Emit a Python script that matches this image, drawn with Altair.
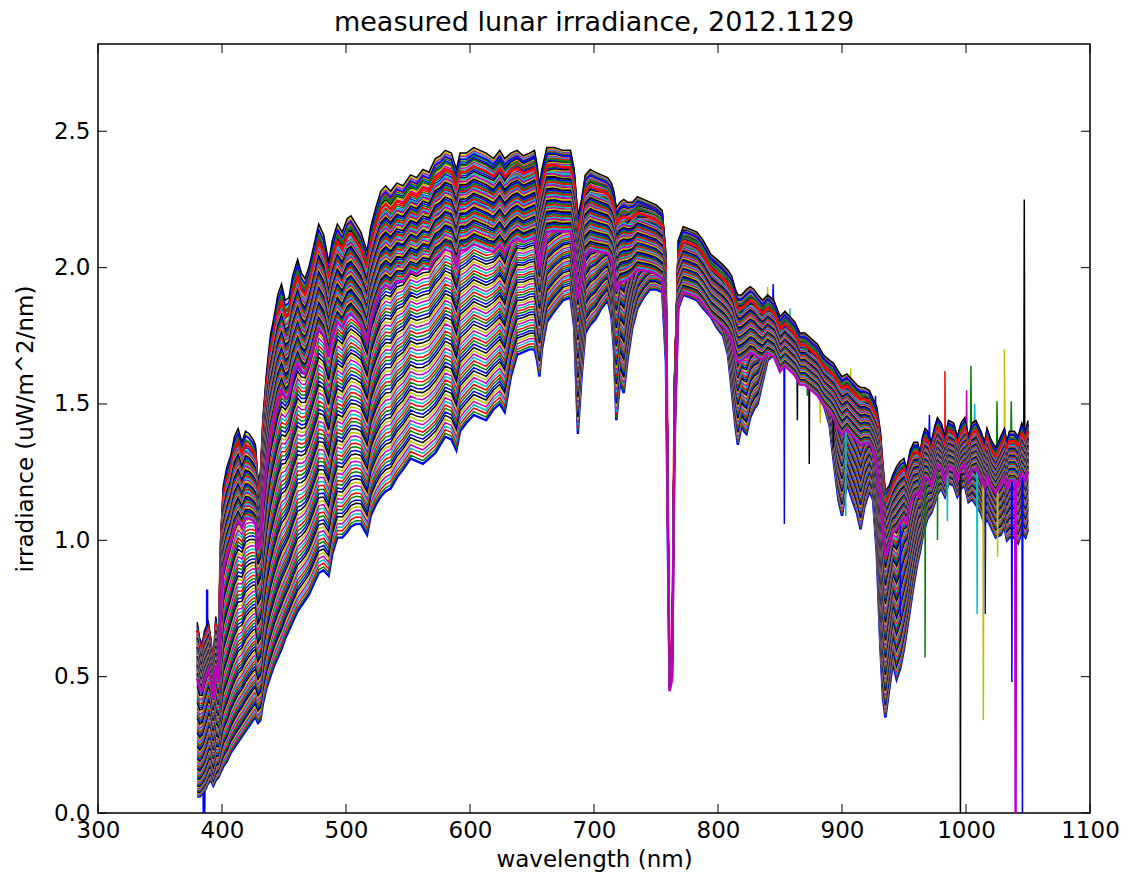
import altair as alt
import numpy as np
import pandas as pd

# ---------------------------------------------------------------- data ----
# wavelength grid (nm) with the upper (brightest) and lower (first recorded,
# highest airmass) envelopes of the spectra bundle, read off the plot
WAVELENGTH = [
    380, 382, 384, 386, 389, 391, 393, 395, 397, 399, 401, 404, 407, 410, 413,
    416, 419, 422, 425, 427, 429, 431, 433, 436, 439, 442, 445, 448, 451, 454,
    457, 461, 464, 467, 470, 474, 478, 482, 486, 489, 493, 497, 501, 504, 508,
    512, 517, 520, 524, 528, 532, 536, 541, 546, 552, 557, 562, 567, 572, 576,
    580, 585, 589, 592, 597, 603, 608, 613, 619, 624, 628, 633, 638, 643, 648,
    652, 654, 656, 658, 662, 668, 675, 681, 684, 687, 690, 693, 697, 701, 706,
    711, 714, 716, 718, 721, 724, 727, 731, 735, 740, 745, 750, 755, 758, 760,
    761, 763, 765, 768, 772, 778, 783, 788, 794, 799, 804, 808, 811, 814, 816,
    819, 821, 823, 826, 829, 832, 836, 840, 845, 850, 854, 858, 862, 866, 870,
    875, 880, 885, 890, 893, 897, 900, 904, 908, 912, 915, 918, 922, 925, 928,
    931, 933, 935, 938, 941, 944, 947,
    950, 952, 955, 958, 961, 963, 965, 967, 969, 972, 975, 977, 980, 983, 986,
    990, 993, 996, 999, 1002, 1005, 1008, 1012, 1015, 1017, 1020, 1024, 1028, 1031, 1033,
    1035, 1039, 1042, 1045, 1048, 1050,
]
TOP = [
    0.70, 0.64, 0.62, 0.67, 0.70, 0.64, 0.55, 0.72, 0.62, 1.02, 1.20, 1.27, 1.31, 1.38, 1.41,
    1.36, 1.40, 1.39, 1.37, 1.35, 1.22, 1.25, 1.45, 1.62, 1.75, 1.82, 1.90, 1.94, 1.88, 1.89,
    1.97, 2.03, 1.98, 1.96, 2.00, 2.08, 2.16, 2.12, 2.02, 2.10, 2.16, 2.13, 2.18, 2.19, 2.16,
    2.13, 2.06, 2.15, 2.22, 2.28, 2.30, 2.28, 2.31, 2.30, 2.34, 2.33, 2.36, 2.35, 2.40, 2.41,
    2.43, 2.42, 2.36, 2.42, 2.42, 2.44, 2.43, 2.42, 2.40, 2.43, 2.40, 2.42, 2.43, 2.41, 2.42,
    2.43, 2.38, 2.30, 2.36, 2.44, 2.44, 2.43, 2.43, 2.36, 2.19, 2.25, 2.34, 2.36, 2.35, 2.34,
    2.33, 2.31, 2.28, 2.22, 2.24, 2.25, 2.24, 2.24, 2.26, 2.25, 2.24, 2.23, 2.21, 2.05, 0.95,
    0.50, 0.55, 1.60, 2.10, 2.15, 2.14, 2.13, 2.10, 2.05, 2.03, 2.01, 1.99, 1.97, 1.92, 1.90,
    1.90, 1.91, 1.92, 1.93, 1.92, 1.90, 1.88, 1.90, 1.88, 1.82, 1.84, 1.82, 1.80, 1.76, 1.76,
    1.74, 1.72, 1.68, 1.66, 1.65, 1.62, 1.60, 1.61, 1.59, 1.57, 1.56, 1.56, 1.55, 1.52, 1.49,
    1.40, 1.28, 1.18, 1.20, 1.24, 1.27, 1.29,
    1.30, 1.26, 1.33, 1.36, 1.36, 1.32, 1.38, 1.41, 1.40, 1.36, 1.42, 1.45, 1.43, 1.38, 1.44,
    1.43, 1.38, 1.43, 1.45, 1.38, 1.43, 1.44, 1.40, 1.36, 1.41, 1.37, 1.34, 1.38, 1.41, 1.36,
    1.40, 1.40, 1.38, 1.43, 1.40, 1.44,
]
BOTTOM = [
    0.06, 0.06, 0.07, 0.08, 0.11, 0.12, 0.10, 0.12, 0.13, 0.15, 0.17, 0.19, 0.22, 0.24, 0.26,
    0.28, 0.30, 0.32, 0.34, 0.35, 0.33, 0.34, 0.40, 0.46, 0.50, 0.54, 0.57, 0.60, 0.64, 0.67,
    0.70, 0.74, 0.76, 0.78, 0.80, 0.84, 0.88, 0.89, 0.87, 0.95, 1.01, 1.01, 1.03, 1.05, 1.06,
    1.06, 1.02, 1.09, 1.13, 1.16, 1.18, 1.19, 1.23, 1.26, 1.30, 1.29, 1.28, 1.30, 1.32, 1.35,
    1.38, 1.37, 1.33, 1.40, 1.43, 1.46, 1.45, 1.44, 1.48, 1.50, 1.47, 1.60, 1.68, 1.69, 1.70,
    1.70, 1.66, 1.60, 1.70, 1.80, 1.84, 1.88, 1.89, 1.78, 1.39, 1.60, 1.76, 1.79, 1.81, 1.85,
    1.88, 1.82, 1.70, 1.44, 1.58, 1.54, 1.66, 1.78, 1.85, 1.89, 1.92, 1.92, 1.91, 1.65, 0.80,
    0.46, 0.50, 1.35, 1.85, 1.90, 1.89, 1.88, 1.85, 1.82, 1.78, 1.75, 1.68, 1.55, 1.42, 1.35,
    1.42, 1.40, 1.39, 1.45, 1.48, 1.50, 1.58, 1.66, 1.68, 1.62, 1.66, 1.65, 1.64, 1.62, 1.61,
    1.58, 1.55, 1.50, 1.42, 1.30, 1.15, 1.09, 1.21, 1.15, 1.10, 1.04, 1.12, 1.18, 1.15, 0.95,
    0.60, 0.42, 0.35, 0.45, 0.55, 0.49, 0.53,
    0.60, 0.66, 0.75, 0.84, 0.92, 0.96, 1.01, 1.05, 1.08, 1.10, 1.14, 1.17, 1.19, 1.16, 1.21,
    1.20, 1.16, 1.19, 1.20, 1.14, 1.15, 1.13, 1.10, 1.06, 1.08, 1.05, 1.01, 1.02, 1.05, 1.00,
    1.01, 1.01, 0.99, 1.03, 1.01, 1.04,
]
assert len(WAVELENGTH) == len(TOP) == len(BOTTOM)

# per-spectrum extinction exponent (1 = lowest spectrum, 0 = highest) and gray level,
# one entry per spectrum in plotting order (138 spectra)
EXTINCTION = [
    1.000, 0.984, 0.967, 0.951, 0.935, 0.919, 0.903, 0.888, 0.872, 0.857,
    0.841, 0.826, 0.811, 0.796, 0.782, 0.767, 0.752, 0.738, 0.724, 0.710,
    0.696, 0.682, 0.668, 0.654, 0.641, 0.627, 0.614, 0.601, 0.588, 0.575,
    0.563, 0.550, 0.537, 0.525, 0.513, 0.501, 0.489, 0.477, 0.465, 0.454,
    0.442, 0.431, 0.420, 0.409, 0.398, 0.387, 0.376, 0.366, 0.355, 0.345,
    0.335, 0.325, 0.315, 0.305, 0.295, 0.286, 0.276, 0.267, 0.258, 0.249,
    0.240, 0.231, 0.223, 0.214, 0.206, 0.198, 0.189, 0.181, 0.174, 0.166,
    0.158, 0.151, 0.143, 0.136, 0.129, 0.122, 0.115, 0.108, 0.102, 0.095,
    0.089, 0.083, 0.077, 0.071, 0.065, 0.059, 0.054, 0.048, 0.043, 0.038,
    0.033, 0.028, 0.023, 0.018, 0.014, 0.009, 0.005, 0.000,
    0.0025, 0.005, 0.0075, 0.010, 0.0125, 0.015, 0.0175, 0.020, 0.0225, 0.025,
    0.0275, 0.030, 0.0325, 0.035, 0.0375, 0.040, 0.0425, 0.045, 0.0475, 0.050,
    0.0525, 0.055, 0.0575, 0.060, 0.0625, 0.065, 0.0675, 0.070, 0.0725, 0.075,
    0.0775, 0.080, 0.0825, 0.085, 0.0875, 0.090, 0.0925, 0.095, 0.0975, 0.100,
]
GRAY = [1.0] * 98 + [
    0.992, 0.984, 0.976, 0.966, 0.964, 0.962, 0.961, 0.959, 0.957, 0.955,
    0.953, 0.952, 0.950, 0.948, 0.946, 0.944, 0.943, 0.941, 0.939, 0.937,
    0.935, 0.934, 0.932, 0.930, 0.928, 0.926, 0.925, 0.923, 0.921, 0.919,
    0.917, 0.916, 0.914, 0.912, 0.910, 0.908, 0.907, 0.905, 0.903, 0.900,
]
assert len(EXTINCTION) == len(GRAY)

# single-sample noise spikes: spectrum index, wavelength (nm), value
SPIKE_LINE = [0, 0, 70, 55, 62, 57, 54, 61, 77, 68, 59, 84, 69, 66, 91, 64, 58, 71,
              60, 75, 78, 85, 73, 82, 49, 56, 137, 63, 76, 83, 89, 80, 92, 87, 98]
SPIKE_WL = [385.5, 388.0, 853.5, 864.0, 873.6, 872.0, 882.5, 907.0, 844.5, 840.0,
            858.0, 927.0, 893.0, 903.0, 947.0, 967.0, 983.0, 1004.0, 1000.5, 1031.0,
            1025.0, 1036.5, 1009.0, 1014.0, 1015.5, 1037.0, 1040.0, 1045.5, 995.5,
            1047.0, 1025.5, 1007.0, 977.0, 985.0, 970.5]
SPIKE_VAL = [-0.10, 0.82, 1.06, 1.44, 1.28, 1.53, 1.43, 1.63, 1.94, 1.93,
             1.85, 1.53, 1.34, 1.09, 0.72, 0.57, 1.62, 1.64, 1.55, 1.70,
             1.51, 1.51, 0.73, 0.34, 0.73, 0.48, -0.10, -0.10, -0.10,
             2.25, 0.94, 1.50, 1.00, 1.07, 1.46]

COLOR_CYCLE = ["#0000ff", "#008000", "#ff0000", "#00bfbf", "#bf00bf", "#bfbf00", "#000000"]
BOLD_LINES = [0, 100, 137]   # spectra that stand out in the picture

X_TICKS = [300, 400, 500, 600, 700, 800, 900, 1000, 1100]
Y_TICKS = [0.0, 0.5, 1.0, 1.5, 2.0, 2.5]

# ------------------------------------------------------------ build table --
w = np.array(WAVELENGTH, dtype=float)
top = np.array(TOP)
bot = np.array(BOTTOM)
rows = []
for i, (a, g) in enumerate(zip(EXTINCTION, GRAY)):
    v = top * g * (bot / top) ** a
    ws, vs = list(w), list(v)
    for li, sw, sv in zip(SPIKE_LINE, SPIKE_WL, SPIKE_VAL):
        if li == i:
            for dw in (-0.4, 0.4):
                ws.append(sw + dw)
                vs.append(float(np.interp(sw + dw, w, v)))
            ws.append(sw)
            vs.append(sv)
    col = COLOR_CYCLE[i % 7]
    sw_ = 2.4 if i in BOLD_LINES else 1.5
    for xx, yy in zip(ws, vs):
        rows.append({"w": round(float(xx), 2), "v": round(float(yy), 4),
                     "id": f"L{i:03d}", "c": col, "s": sw_})
df = pd.DataFrame(rows)

W, H = 992, 769
FONT = "DejaVu Sans"

xscale = alt.Scale(domain=[300, 1100], nice=False, zero=False)
yscale = alt.Scale(domain=[0, 2.82], nice=False, zero=False)
xaxis = alt.Axis(values=X_TICKS, title="wavelength (nm)", format="d",
                 labelPadding=6, titlePadding=6)
yaxis = alt.Axis(values=Y_TICKS, title="irradiance (uW/m^2/nm)", format=".1f",
                 labelPadding=8, titlePadding=16)

lines = alt.Chart(df).mark_line(clip=True).encode(
    x=alt.X("w:Q", scale=xscale, axis=xaxis),
    y=alt.Y("v:Q", scale=yscale, axis=yaxis),
    color=alt.Color("c:N", scale=None, legend=None),
    strokeWidth=alt.StrokeWidth("s:Q", scale=None, legend=None),
    detail="id:N",
)

xt = pd.DataFrame({"t": X_TICKS})
yt = pd.DataFrame({"t": Y_TICKS})
tick_style = dict(color="black", strokeWidth=1)
bottom_ticks = alt.Chart(xt).mark_rule(**tick_style).encode(
    x=alt.X("t:Q", scale=xscale, axis=xaxis), y=alt.value(H), y2=alt.value(H - 9))
top_ticks = alt.Chart(xt).mark_rule(**tick_style).encode(
    x=alt.X("t:Q", scale=xscale, axis=xaxis), y=alt.value(0), y2=alt.value(9))
left_ticks = alt.Chart(yt).mark_rule(**tick_style).encode(
    y=alt.Y("t:Q", scale=yscale, axis=yaxis), x=alt.value(0), x2=alt.value(9))
right_ticks = alt.Chart(yt).mark_rule(**tick_style).encode(
    y=alt.Y("t:Q", scale=yscale, axis=yaxis), x=alt.value(W - 9), x2=alt.value(W))

chart = alt.layer(lines, bottom_ticks, top_ticks, left_ticks, right_ticks).properties(
    width=W,
    height=H,
    background="white",
    title=alt.TitleParams("measured lunar irradiance, 2012.1129", fontSize=27, font=FONT,
                          fontWeight="normal", color="black", anchor="middle", offset=7),
    padding={"left": 98, "right": 38, "top": 44, "bottom": 68},
    autosize=alt.AutoSizeParams(type="none"),
).configure_view(
    stroke="black", strokeWidth=1.5
).configure_axis(
    labelFont=FONT, labelFontSize=23, labelColor="black",
    titleFont=FONT, titleFontSize=23, titleFontWeight="normal", titleColor="black",
    ticks=False, domain=False, grid=False, labelFlush=False, labelOverlap=False,
)

chart.save("out.html", embed_options={"renderer": "svg", "actions": False})
